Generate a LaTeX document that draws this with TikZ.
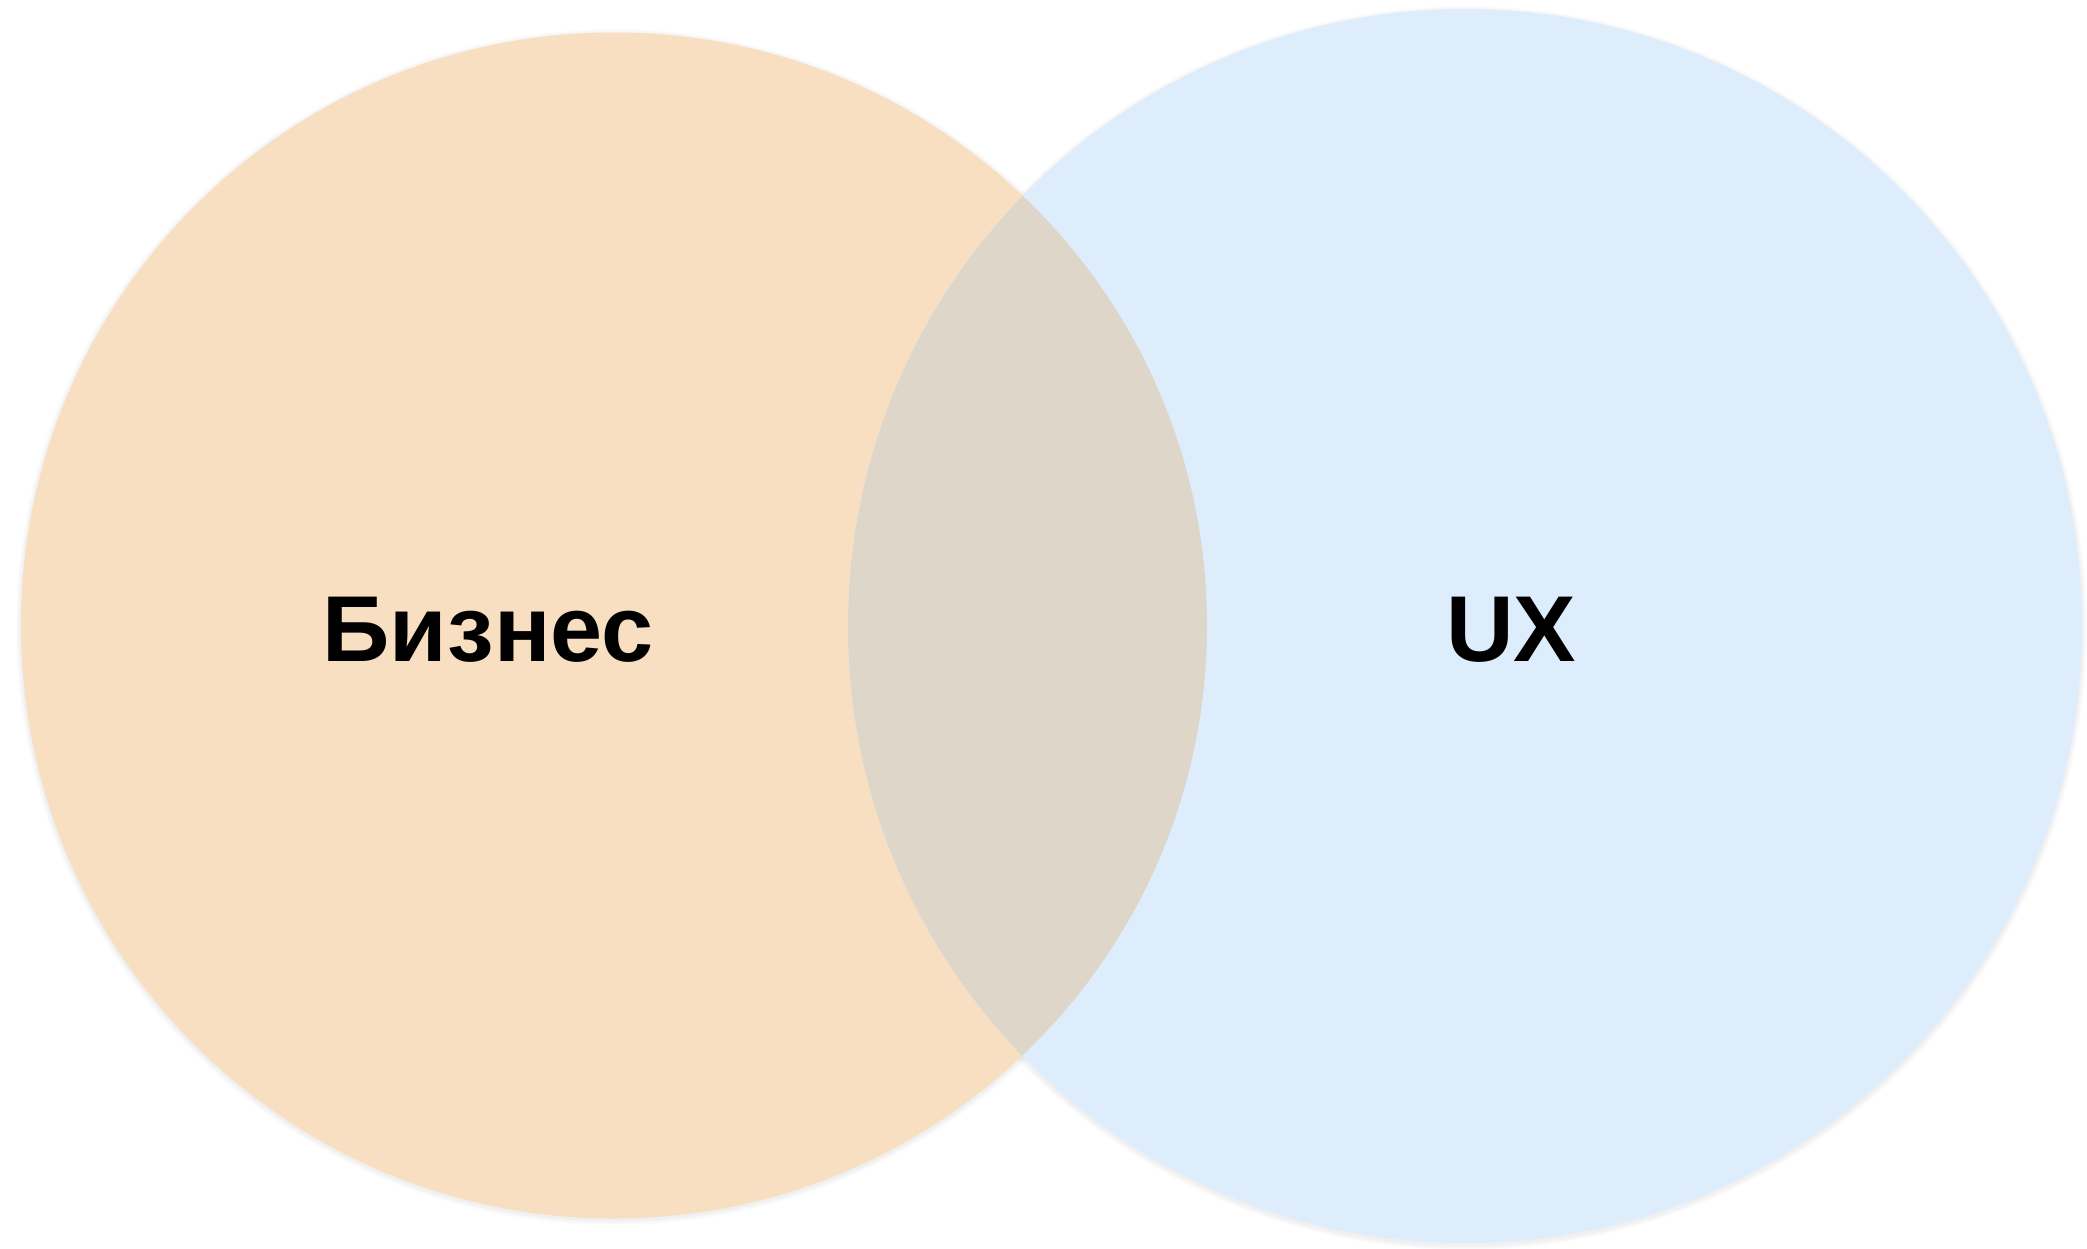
\documentclass[tikz,border=0pt]{standalone}
\usepackage{fontspec}
\setmainfont{Liberation Sans}
\definecolor{bizfill}{HTML}{F9DFC2}
\definecolor{uxfill}{HTML}{DEEDFC}
\definecolor{lensfill}{HTML}{DDD6C9}
\begin{document}
\begin{tikzpicture}[x=1pt,y=-1pt,
  lbl/.style={font=\fontsize{93.6}{100}\selectfont\bfseries, text=black, inner sep=0pt, anchor=base}]
\useasboundingbox (0,0) rectangle (2087,1248);
\fill[white] (0,0) rectangle (2087,1248);
% soft shadows
\foreach \d in {1,2,3,4,5} {
  \fill[black, opacity=0.012] (614,627) circle ({593+\d});
  \fill[black, opacity=0.012] (1465,628) circle ({617+\d});
}
\fill[bizfill] (614,625.5) circle (593);
\fill[uxfill] (1465,626) circle (617);
\begin{scope}
  \clip (614,625.5) circle (593);
  \fill[lensfill] (1465,626) circle (617);
\end{scope}
\node[lbl] (biz) at (488,661) {Бизнес};
\node[lbl] (ux) at (1511,661) {UX};
\end{tikzpicture}
\end{document}
